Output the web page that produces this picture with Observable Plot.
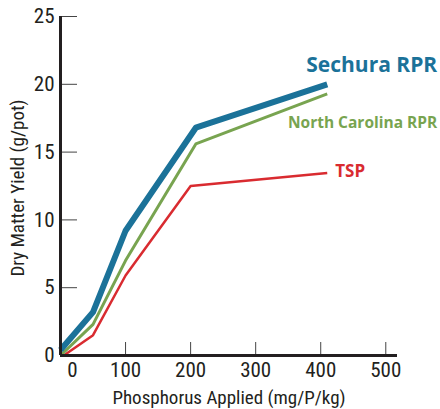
<!DOCTYPE html>
<html><head><meta charset="utf-8">
<script src="https://cdn.jsdelivr.net/npm/d3@7"></script>
<script src="https://cdn.jsdelivr.net/npm/@observablehq/plot@0.6"></script>
<style>
body{margin:0;background:#fff}
#chart{width:440px;height:409px}
</style>
</head><body><div id="chart"></div>
<script>
const seriesNames = ["Sechura RPR", "North Carolina RPR", "TSP"];
const sechuraX = [0, 50, 100, 208, 410];
const sechuraY = [0.4, 3.2, 9.2, 16.8, 20.0];
const ncX = [0, 50, 100, 208, 410];
const ncY = [0, 2.3, 7.0, 15.6, 19.3];
const tspX = [5, 50, 100, 200, 410];
const tspY = [0, 1.5, 5.9, 12.5, 13.45];
const xTicks = [0, 100, 200, 300, 400, 500];
const yTicks = [0, 5, 10, 15, 20, 25];
const xLabel = "Phosphorus Applied (mg/P/kg)";
const yLabel = "Dry Matter Yield (g/pot)";
const colors = ["#1b7299", "#78a450", "#d92b30"];

const rows = (name, xs, ys) => xs.map((x, i) => ({series: name, x, y: ys[i]}));
const sech = rows(seriesNames[0], sechuraX, sechuraY);
const nc = rows(seriesNames[1], ncX, ncY);
const tsp = rows(seriesNames[2], tspX, tspY);

const axisFont = "'Roboto Condensed', Roboto, sans-serif";
const labelFont = "'Open Sans', sans-serif";
const ink = "#231f20";

const chart = Plot.plot({
  width: 440, height: 409,
  marginLeft: 60, marginRight: 43, marginTop: 16, marginBottom: 54,
  x: {domain: [0, 518]},
  y: {domain: [0, 25]},
  style: {fontFamily: axisFont, fontSize: "20px", color: ink, background: "#fff", overflow: "visible"},
  marks: [
    Plot.axisY(yTicks, {tickSize: 0, tickPadding: 6, label: null, fill: ink, fontSize: 21}),
    Plot.axisY(yTicks, {tickSize: 17, dx: 17, text: null, label: null, stroke: "#444"}),
    Plot.axisX(xTicks.slice(1), {tickSize: 13, dy: -13, text: null, label: null, stroke: "#444"}),
    Plot.axisX(xTicks.slice(1), {tickSize: 0, tickPadding: 7, label: null, fill: ink, fontSize: 21}),
    Plot.axisX(xTicks.slice(0, 1), {tickSize: 0, tickPadding: 7, label: null, fill: ink, fontSize: 21, dx: 12}),
    Plot.text([xLabel], {text: d => d, frameAnchor: "bottom", textAnchor: "middle", dy: 42, lineAnchor: "middle", fill: ink, fontSize: 19}),
    Plot.text([yLabel], {text: d => d, frameAnchor: "left", textAnchor: "middle", rotate: -90, dx: -43, dy: 2, lineAnchor: "middle", fill: ink, fontSize: 19}),
    Plot.line(tsp, {x: "x", y: "y", stroke: colors[2], strokeWidth: 2.5, strokeLinecap: "butt"}),
    Plot.line(nc, {x: "x", y: "y", stroke: colors[1], strokeWidth: 3, strokeLinecap: "butt"}),
    Plot.line(sech, {x: "x", y: "y", stroke: colors[0], strokeWidth: 6, strokeLinecap: "butt"}),
    Plot.ruleX([0], {stroke: ink, strokeWidth: 3}),
    Plot.ruleY([0], {stroke: ink, strokeWidth: 3}),
    Plot.text(sech.slice(-1), {x: "x", y: "y", text: "series", textAnchor: "end", dx: 110, dy: -19, fill: colors[0], fontWeight: "bold", fontSize: 21, fontFamily: labelFont}),
    Plot.text(nc.slice(-1), {x: "x", y: "y", text: "series", textAnchor: "end", dx: 110, dy: 29, fill: colors[1], fontWeight: "bold", fontSize: 15.5, fontFamily: labelFont}),
    Plot.text(tsp.slice(-1), {x: "x", y: "y", text: "series", textAnchor: "start", dx: 8, dy: -2, fill: colors[2], fontWeight: "bold", fontSize: 17, fontFamily: labelFont})
  ]
});
document.getElementById("chart").appendChild(chart);
</script>
</body></html>
